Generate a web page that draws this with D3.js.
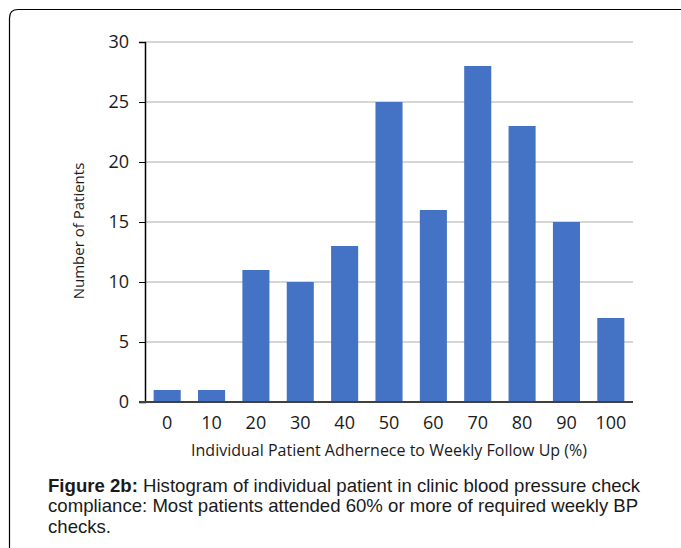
<!DOCTYPE html>
<html lang="en">
<head>
  <meta charset="UTF-8">
  <title>Figure 2b</title>
  <script src="https://d3js.org/d3.v7.min.js"></script>
  <style>
    body { margin: 0; background: #fff; }
    .tick text { font-family: "Open Sans", sans-serif; fill: #1a1a1a; }
    .caption { font-family: "Liberation Sans", Arial, sans-serif; font-size: 18.6px; fill: #1a1a1a; }
  </style>
</head>
<body>
  <div id="chart"></div>
  <script>
    // Adherence bins (%) and patient counts
    const categories = ["0", "10", "20", "30", "40", "50", "60", "70", "80", "90", "100"];
    const counts = [1, 1, 11, 10, 13, 25, 16, 28, 23, 15, 7];
    const yTicks = [0, 5, 10, 15, 20, 25, 30];
    const captionLines = [
      ["Figure 2b:", " Histogram of individual patient in clinic blood pressure check"],
      ["", "compliance: Most patients attended 60% or more of required weekly BP"],
      ["", "checks."]
    ];

    const width = 681;
    const height = 548;
    const margin = { left: 145, right: 48, top: 42, bottom: 146 };

    const svg = d3.select("#chart")
      .append("svg")
      .attr("width", width)
      .attr("height", height);

    // frame: top and left lines with rounded corner
    svg.append("path")
      .attr("d", "M9.5,548 L9.5,18 Q9.5,9.5 18,9.5 L681,9.5")
      .attr("fill", "none")
      .attr("stroke", "#000")
      .attr("stroke-width", 1.2);

    const x = d3.scaleBand()
      .domain(categories)
      .range([margin.left, width - margin.right])
      .paddingInner(0.39)
      .paddingOuter(0.195);

    const y = d3.scaleLinear()
      .domain([0, 30])
      .range([height - margin.bottom, margin.top]);

    // gridlines
    svg.append("g")
      .selectAll("line")
      .data(yTicks.filter(d => d > 0))
      .join("line")
      .attr("x1", margin.left)
      .attr("x2", width - margin.right)
      .attr("y1", d => y(d))
      .attr("y2", d => y(d))
      .attr("stroke", "#c8c8c8")
      .attr("stroke-width", 1.5);

    // bars
    svg.append("g")
      .selectAll("rect")
      .data(counts)
      .join("rect")
      .attr("x", (d, i) => x(categories[i]))
      .attr("y", d => y(d))
      .attr("width", x.bandwidth())
      .attr("height", d => y(0) - y(d))
      .attr("fill", "#4472c4");

    // y axis
    const yAxis = svg.append("g")
      .attr("transform", `translate(${margin.left},0)`)
      .call(d3.axisLeft(y).tickValues(yTicks).tickSize(6).tickPadding(10));
    yAxis.select(".domain").attr("stroke", "#000").attr("stroke-width", 1.5);
    yAxis.selectAll(".tick line").attr("stroke", "#000");
    yAxis.selectAll(".tick text").style("font-size", "18px");

    // x axis
    const xAxis = svg.append("g")
      .attr("transform", `translate(0,${y(0)})`)
      .call(d3.axisBottom(x).tickSize(0).tickPadding(14));
    xAxis.select(".domain")
      .attr("d", `M${margin.left - 6},0H${width - margin.right}`)
      .attr("stroke", "#404040")
      .attr("stroke-width", 2);
    xAxis.selectAll(".tick text").style("font-size", "18px");

    // axis titles
    svg.append("text")
      .attr("x", (margin.left + width - margin.right) / 2)
      .attr("y", 456)
      .attr("text-anchor", "middle")
      .attr("font-family", "Open Sans, sans-serif")
      .attr("font-size", 16)
      .attr("fill", "#1a1a1a")
      .text("Individual Patient Adhernece to Weekly Follow Up (%)");

    svg.append("text")
      .attr("transform", "translate(84,231) rotate(-90)")
      .attr("text-anchor", "middle")
      .attr("font-family", "Open Sans, sans-serif")
      .attr("font-size", 15)
      .attr("fill", "#1a1a1a")
      .text("Number of Patients");

    // caption
    const caption = svg.append("text").attr("class", "caption");
    captionLines.forEach((line, i) => {
      const t = caption.append("tspan")
        .attr("x", 48)
        .attr("y", 491.5 + i * 20.8);
      if (line[0]) t.append("tspan").attr("font-weight", "bold").text(line[0]);
      t.append("tspan").text(line[1]);
    });
  </script>
</body>
</html>
